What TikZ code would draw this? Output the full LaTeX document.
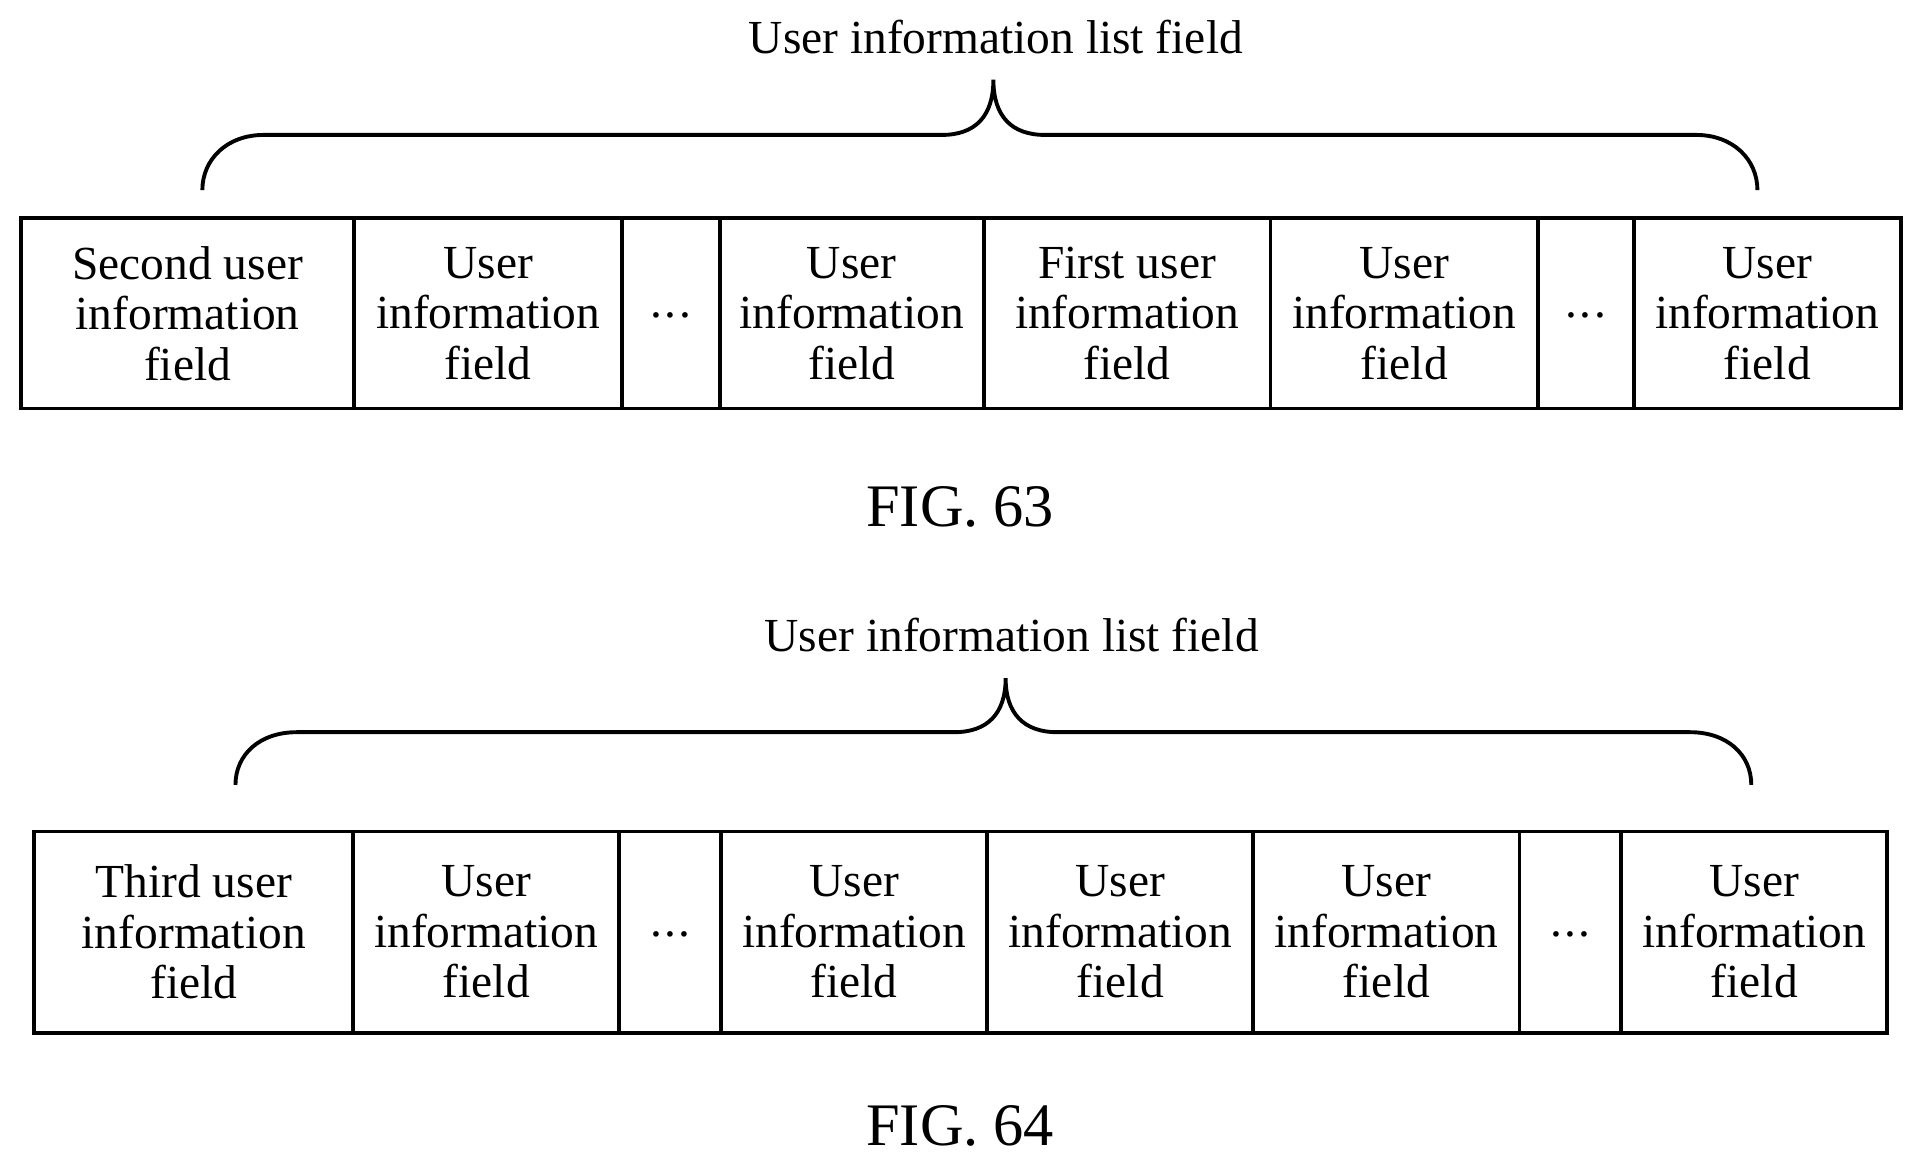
\documentclass[tikz,border=0pt]{standalone}
\usepackage{fontspec}
\setmainfont{Liberation Serif}
\begin{document}
\begin{tikzpicture}[x=0.01cm,y=-0.01cm,
  cell/.style={draw,line width=0.9pt,inner sep=0pt,align=center,font=\fontsize{11}{11.7}\selectfont},
  lbl/.style={font=\fontsize{11}{13}\selectfont},
  fig/.style={font=\fontsize{14}{16}\selectfont},
  br/.style={line width=0.9pt}]
\useasboundingbox (0,0) rectangle (1568,953);
% FIG 63
\foreach \a/\b/\t [count=\i] in {17/289/{Second user\\information\\field},289/507/{User\\information\\field},507/587/{\raisebox{-0.4ex}{.\kern0.05em.\kern0.05em.}},587/802/{User\\information\\field},802/1036/{First user\\information\\field},1036/1254/{User\\information\\field},1254/1332/{\raisebox{-0.4ex}{.\kern0.05em.\kern0.05em.}},1332/1550/{User\\information\\field}}
  \node[cell,minimum width={(\b-\a)*0.01cm},minimum height=1.55cm] (a\i) at ({(\a+\b)/2},255.5) {\t};
\node[lbl] (t1) at (812,30) {User information list field};
\draw[br] (165,155) .. controls (165,130) and (185,110) .. (215,110) -- (768,110) .. controls (795,110) and (810,95) .. (810,65)
  .. controls (810,95) and (825,110) .. (852,110) -- (1383,110) .. controls (1413,110) and (1433,130) .. (1433,155);
\node[fig] (f1) at (783,413) {FIG. 63};
% FIG 64
\foreach \a/\b/\t [count=\i] in {28/288/{Third user\\information\\field},288/505/{User\\information\\field},505/588/{\raisebox{-0.4ex}{.\kern0.05em.\kern0.05em.}},588/805/{User\\information\\field},805/1022/{User\\information\\field},1022/1239/{User\\information\\field},1239/1322/{\raisebox{-0.4ex}{.\kern0.05em.\kern0.05em.}},1322/1539/{User\\information\\field}}
  \node[cell,minimum width={(\b-\a)*0.01cm},minimum height=1.64cm] (b\i) at ({(\a+\b)/2},760) {\t};
\node[lbl] (t2) at (825,518) {User information list field};
\draw[br] (192,640) .. controls (192,615) and (212,597) .. (242,597) -- (778,597) .. controls (805,597) and (820,582) .. (820,553)
  .. controls (820,582) and (835,597) .. (862,597) -- (1378,597) .. controls (1408,597) and (1428,615) .. (1428,640);
\node[fig] (f2) at (783,918) {FIG. 64};
\end{tikzpicture}
\end{document}
